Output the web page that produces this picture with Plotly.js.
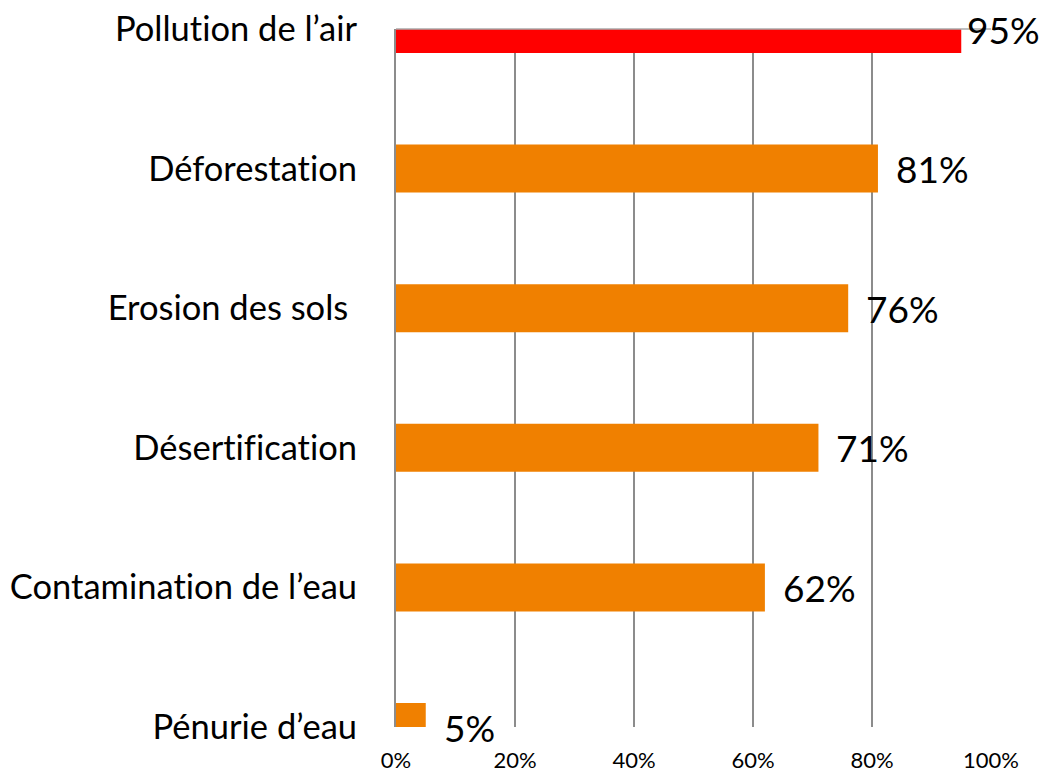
<!DOCTYPE html>
<html><head><meta charset="utf-8">
<script src="https://cdn.plot.ly/plotly-3.0.1.min.js"></script>
<style>html,body{margin:0;padding:0;background:#fff}#chart{width:1044px;height:772px}
svg text{font-variant-ligatures:none;font-feature-settings:"liga" 0, "clig" 0;}</style>
</head><body><div id="chart"></div>
<script>
const categories = ["Pollution de l\u2019air", "D\u00e9forestation", "Erosion des sols ", "D\u00e9sertification", "Contamination de l\u2019eau", "P\u00e9nurie d\u2019eau"];
const values = [95, 81, 76, 71, 62, 5];
const barColors = ["#FF0000", "#F08000", "#F08000", "#F08000", "#F08000", "#F08000"];
const xTickVals = [0, 20, 40, 60, 80, 100];
const xTickText = ["0%", "20%", "40%", "60%", "80%", "100%"];

const font = "Lato, 'Open Sans', sans-serif";

const trace = {
  type: "bar", orientation: "h",
  x: values, y: categories,
  marker: {color: barColors, line: {width: 0}},
  width: 0.344,
  hoverinfo: "none",
  cliponaxis: true
};

const annotations = values.map((v, i) => ({
  x: v, y: categories[i], xref: "x", yref: "y",
  text: v + "%", showarrow: false,
  xanchor: "left", yanchor: "middle",
  xshift: v >= 90 ? 4 : 16,
  font: {family: font, size: 37, color: "#000"}
}));

const layout = {
  width: 1044, height: 772,
  margin: {l: 396, r: 53, t: 29, b: 45, pad: 0},
  paper_bgcolor: "#fff", plot_bgcolor: "#fff",
  showlegend: false,
  xaxis: {
    range: [0, 100], tickvals: xTickVals, ticktext: xTickText,
    showgrid: true, gridcolor: "#8c8c8c", gridwidth: 1.5,
    zeroline: false, showline: false, ticks: "",
    ticklabelstandoff: 18,
    tickfont: {family: font, size: 22, color: "#000"},
    fixedrange: true
  },
  yaxis: {
    type: "category", categoryorder: "array", categoryarray: categories,
    range: [5, 0],
    showgrid: false, zeroline: false,
    showline: true, linecolor: "#8c8c8c", linewidth: 2,
    ticks: "", ticklabelstandoff: 30,
    tickfont: {family: font, size: 34.5, color: "#000"},
    fixedrange: true
  },
  shapes: [{type: "line", xref: "paper", yref: "paper", x0: 0, x1: 1, y0: 1, y1: 1,
            line: {color: "#aaaaaa", width: 1.5}, layer: "above"}],
  annotations: annotations
};

Plotly.newPlot("chart", [trace], layout, {displayModeBar: false, staticPlot: true});
</script></body></html>
